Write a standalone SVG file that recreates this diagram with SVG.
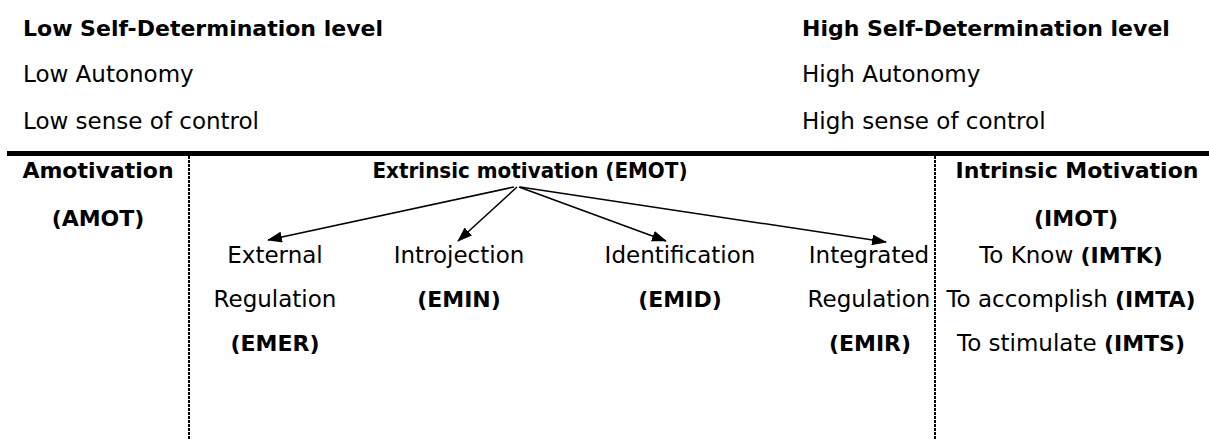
<svg xmlns="http://www.w3.org/2000/svg" width="1209" height="439" viewBox="0 0 1209 439">
  <style>
    text { font-family: "DejaVu Sans", "Liberation Sans", sans-serif; font-size: 23px; fill: #000; }
    .b { font-weight: bold; font-size: 22px; }
    .c { text-anchor: middle; }
    .rule { stroke: #000; stroke-width: 5; }
    .sep { stroke: #000; stroke-width: 2; stroke-dasharray: 3 1; }
    .arrow { stroke: #000; stroke-width: 1.5; fill: none; marker-end: url(#head); }
  </style>
  <defs>
    <marker id="head" viewBox="0 0 15 11" refX="14" refY="5.5" markerWidth="15" markerHeight="11" markerUnits="userSpaceOnUse" orient="auto">
      <path d="M0,0 L15,5.5 L0,11 Z" fill="#000"/>
    </marker>
  </defs>

  <rect width="1209" height="439" fill="#fff"/>

  <!-- scale header -->
  <g id="low-end">
    <text class="b" x="23" y="36">Low Self-Determination level</text>
    <text x="23" y="82">Low Autonomy</text>
    <text x="23" y="129">Low sense of control</text>
  </g>
  <g id="high-end">
    <text class="b" x="802" y="36">High Self-Determination level</text>
    <text x="802" y="82">High Autonomy</text>
    <text x="802" y="129">High sense of control</text>
  </g>

  <!-- table rules -->
  <g id="rules">
    <line class="rule" x1="7" y1="153.5" x2="1209" y2="153.5"/>
    <line class="sep" x1="189" y1="156" x2="189" y2="439"/>
    <line class="sep" x1="935" y1="156" x2="935" y2="439"/>
  </g>

  <g id="amot">
    <text class="b c" x="98" y="178">Amotivation</text>
    <text class="b c" x="98" y="226">(AMOT)</text>
  </g>

  <g id="emot">
    <text class="b c" x="530" y="178" textLength="315" lengthAdjust="spacingAndGlyphs">Extrinsic motivation (EMOT)</text>
  </g>

  <g id="emer">
    <text class="c" x="275" y="263">External</text>
    <text class="c" x="275" y="307">Regulation</text>
    <text class="b c" x="275" y="351">(EMER)</text>
  </g>
  <g id="emin">
    <text class="c" x="459" y="263">Introjection</text>
    <text class="b c" x="459" y="307">(EMIN)</text>
  </g>
  <g id="emid">
    <text class="c" x="680" y="263">Identification</text>
    <text class="b c" x="680" y="307">(EMID)</text>
  </g>
  <g id="emir">
    <text class="c" x="869" y="263">Integrated</text>
    <text class="c" x="869" y="307">Regulation</text>
    <text class="b c" x="870" y="351">(EMIR)</text>
  </g>

  <g id="imot">
    <text class="b c" x="1077" y="178">Intrinsic Motivation</text>
    <text class="b c" x="1076" y="226">(IMOT)</text>
    <text class="c" x="1071" y="263">To Know <tspan class="b">(IMTK)</tspan></text>
    <text class="c" x="1071" y="307">To accomplish <tspan class="b">(IMTA)</tspan></text>
    <text class="c" x="1071" y="351">To stimulate <tspan class="b">(IMTS)</tspan></text>
  </g>

  <!-- connectors -->
  <g id="connectors">
    <line class="arrow" x1="514" y1="187" x2="268" y2="240"/>
    <line class="arrow" x1="517" y1="187" x2="458" y2="241"/>
    <line class="arrow" x1="519" y1="187" x2="666" y2="241"/>
    <line class="arrow" x1="520" y1="187" x2="886" y2="242"/>
  </g>
</svg>
